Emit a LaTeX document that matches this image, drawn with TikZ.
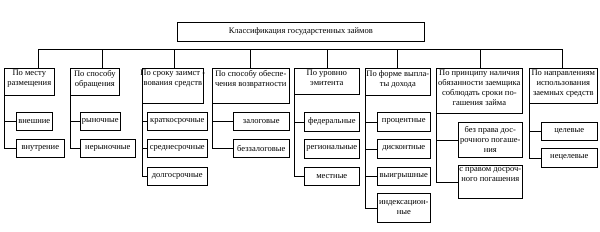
\documentclass[tikz,border=0pt]{standalone}
\usepackage{fontspec}
\setmainfont{Liberation Serif}
\tikzset{
  box/.style={draw, line width=0.6pt, inner sep=1pt, anchor=north west, align=center,
    font=\fontsize{8.5}{10}\selectfont},
  txt/.style={anchor=north, align=center, inner sep=2pt, font=\fontsize{8.5}{10}\selectfont},
  link/.style={line width=0.6pt}
}

\begin{document}
\begin{tikzpicture}[x=1pt, y=-1pt]
\useasboundingbox (0,0) rectangle (600,231);
\node[box, minimum width=247pt, minimum height=19pt] (title) at (177,22) {Классификация государстенных займов};

% categories
\node[box, minimum width=50pt, minimum height=27pt, label={[txt]north:{По месту\\размещения}}] (k1) at (4,68) {};
\node[box, minimum width=49pt, minimum height=27pt, label={[txt]north:{По способу\\обращения}}] (k2) at (70,68) {};
\node[box, minimum width=61pt, minimum height=35pt, label={[txt]north:{По сроку заимст -\\вования средств}}] (k3) at (142,68) {};
\node[box, minimum width=77pt, minimum height=35pt, label={[txt]north:{По способу обеспе-\\чения возвратности}}] (k4) at (212,68) {};
\node[box, minimum width=65pt, minimum height=26pt, label={[txt]north:{По уровню\\эмитента}}] (k5) at (294,68) {};
\node[box, minimum width=65pt, minimum height=27pt, label={[txt]north:{По форме выпла-\\ты дохода}}] (k6) at (365,68) {};
\node[box, minimum width=86pt, minimum height=45pt, label={[txt]north:{По принципу наличия\\обязанности заемщика\\соблюдать сроки по-\\гашения займа}}] (k7) at (436,68) {};
\node[box, minimum width=68pt, minimum height=35pt, label={[txt]north:{По направлениям\\использования\\заемных средств}}] (k8) at (529,68) {};

% bus
\foreach \x [count=\i] in {38,102,174,250,327,397,480,562}
  \coordinate (b\i) at (\x,49);
\draw[link] (b1) -- (b8);
\foreach \i in {1,...,8}
  \draw[link] (b\i) -- (b\i |- k\i.north);

% leaves
\node[box, minimum width=36pt, minimum height=18pt] (l11) at (16,112) {внешние};
\node[box, minimum width=48pt, minimum height=18pt] (l12) at (16,139) {внутрение};
\node[box, minimum width=40pt, minimum height=18pt] (l21) at (80,112) {рыночные};
\node[box, minimum width=55pt, minimum height=18pt] (l22) at (80,139) {нерыночные};
\node[box, minimum width=60pt, minimum height=18pt] (l31) at (147,112) {краткосрочные};
\node[box, minimum width=60pt, minimum height=18pt] (l32) at (147,139) {среднесрочные};
\node[box, minimum width=60pt, minimum height=18pt] (l33) at (147,167) {долгосрочные};
\node[box, minimum width=56pt, minimum height=18pt] (l41) at (233,112) {залоговые};
\node[box, minimum width=56pt, minimum height=18pt] (l42) at (233,139) {беззалоговые};
\node[box, minimum width=55pt, minimum height=19pt] (l51) at (304,112) {федеральные};
\node[box, minimum width=55pt, minimum height=19pt] (l52) at (304,139) {региональные};
\node[box, minimum width=55pt, minimum height=18pt] (l53) at (304,167) {местные};
\node[box, minimum width=53pt, minimum height=19pt] (l61) at (377,112) {процентные};
\node[box, minimum width=53pt, minimum height=19pt] (l62) at (377,139) {дисконтные};
\node[box, minimum width=53pt, minimum height=18pt] (l63) at (377,167) {выигрышные};
\node[box, minimum width=53pt, minimum height=29pt] (l64) at (377,193) {индексацион-\\ные};
\node[box, minimum width=64pt, minimum height=35pt] (l71) at (458,122) {без права дос-\\рочного погаше-\\ния};
\node[box, minimum width=64pt, minimum height=33pt, label={[txt]north:{с правом досроч-\\ного погашения}}] (l72) at (458,165) {};
\node[box, minimum width=56pt, minimum height=18pt] (l81) at (541,122) {целевые};
\node[box, minimum width=56pt, minimum height=19pt] (l82) at (541,148) {нецелевые};

% links to leaves
\draw[link] (k1.south west) |- (l12.west);
\draw[link] (k1.south west |- l11.west) -- (l11.west);
\draw[link] (k2.south west) |- (l22.west);
\draw[link] (k2.south west |- l21.west) -- (l21.west);
\draw[link] (k3.south west) |- (l33.west);
\foreach \l in {l31,l32}
  \draw[link] (k3.south west |- \l.west) -- (\l.west);
\draw[link] (k4.south west) |- (l42.west);
\draw[link] (k4.south west |- l41.west) -- (l41.west);
\draw[link] (k5.south west) |- (l53.west);
\draw[link] (k5.south west |- l51.west) -- (l51.west);
\draw[link] (k6.south west) |- (l64.west);
\foreach \l in {l61,l62,l63}
  \draw[link] (k6.south west |- \l.west) -- (\l.west);
\draw[link] (k7.south west) |- (l72.west);
\draw[link] (k7.south west |- l71.west) -- (l71.west);
\draw[link] (k8.south west) |- (l82.west);
\draw[link] (k8.south west |- l81.west) -- (l81.west);
\end{tikzpicture}
\end{document}
